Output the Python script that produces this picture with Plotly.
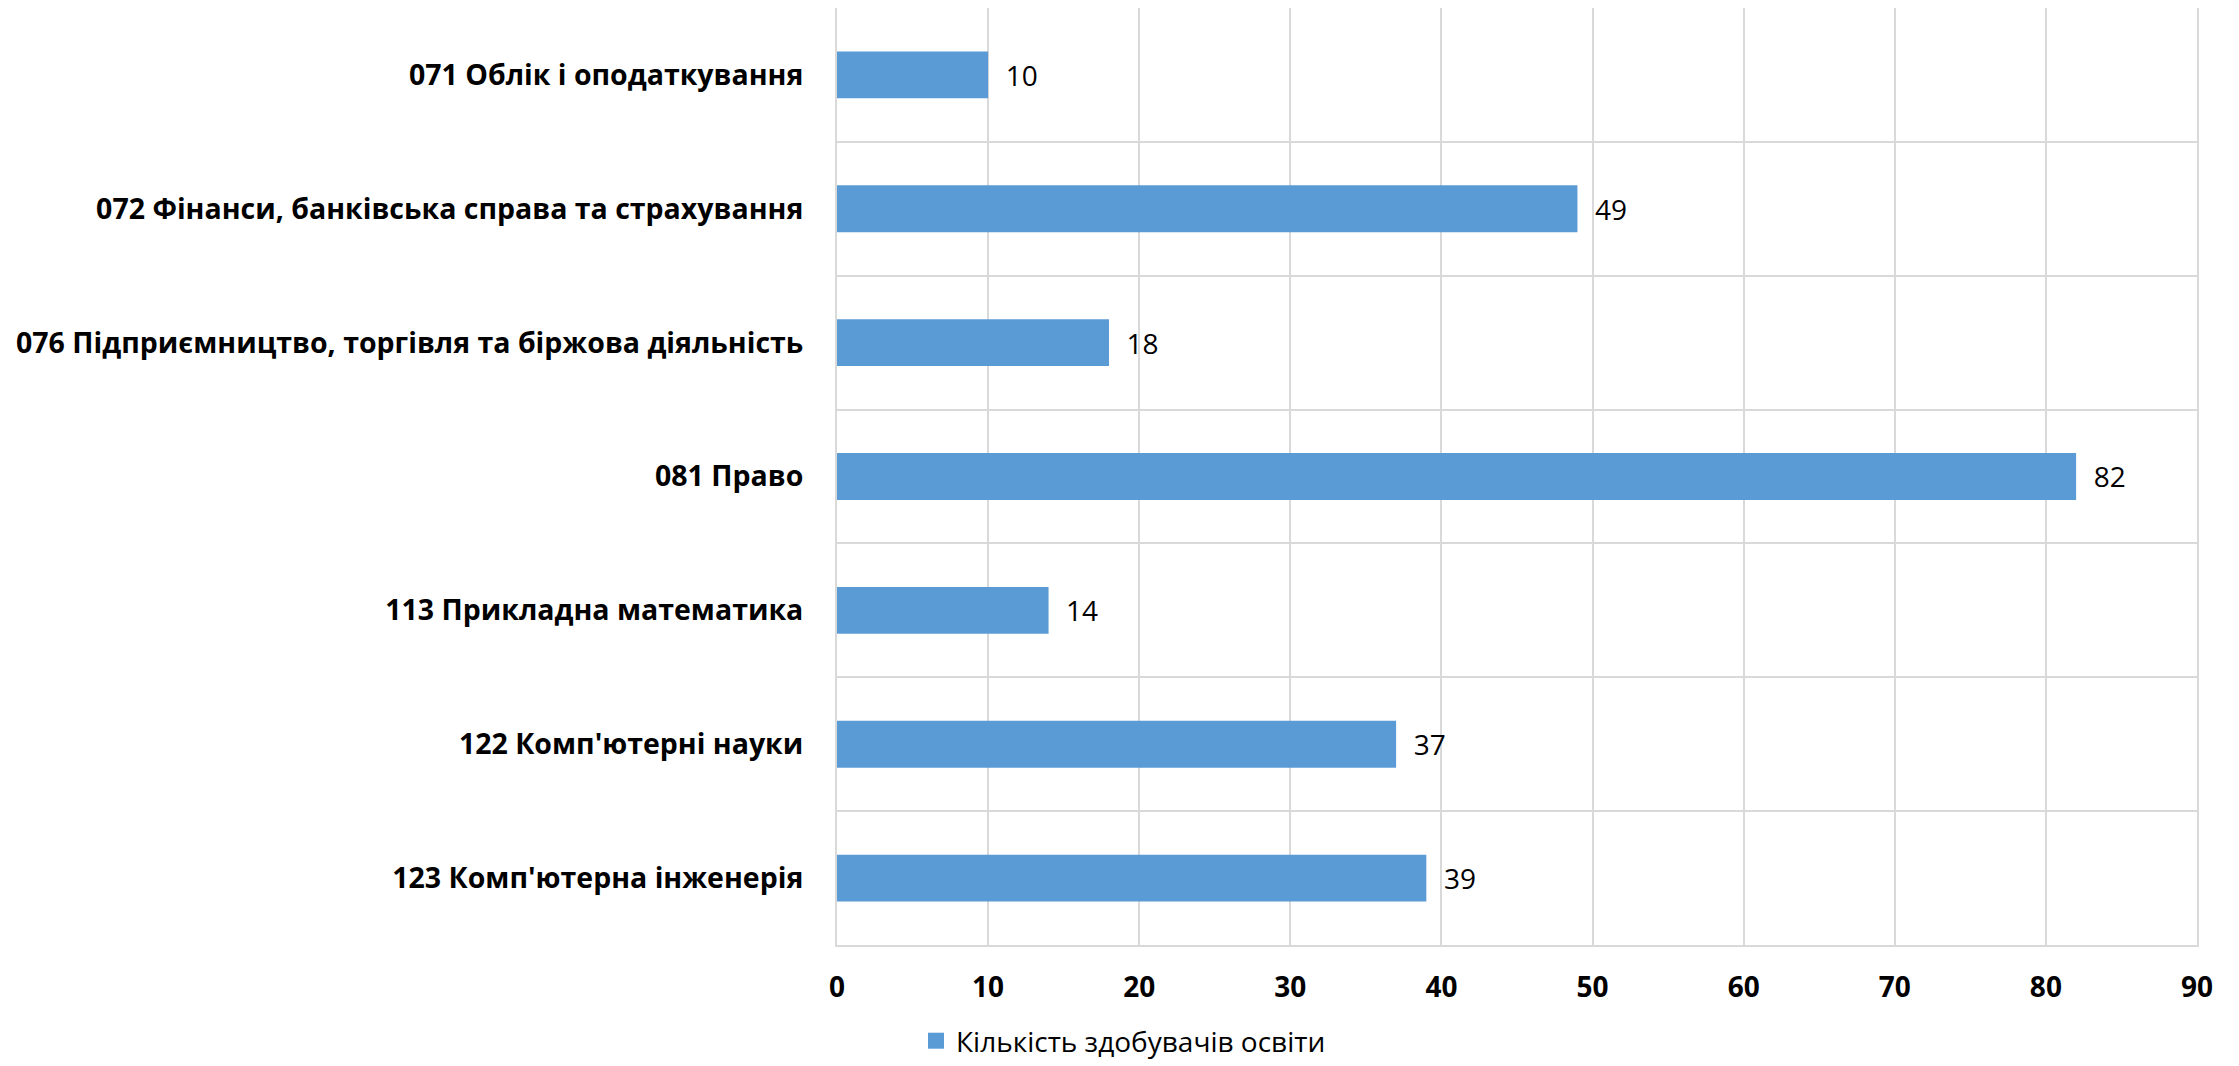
import plotly.graph_objects as go

categories = [
    "071 Облік і оподаткування",
    "072 Фінанси, банківська справа та страхування",
    "076 Підприємництво, торгівля та біржова діяльність",
    "081 Право",
    "113 Прикладна математика",
    "122 Комп'ютерні науки",
    "123 Комп'ютерна інженерія",
]
values = [10, 49, 18, 82, 14, 37, 39]
series_name = "Кількість здобувачів освіти"
x_ticks = [0, 10, 20, 30, 40, 50, 60, 70, 80, 90]

BAR_COLOR = "#5B9BD5"

fig = go.Figure()
fig.add_trace(go.Bar(
    y=categories,
    x=values,
    orientation="h",
    name=series_name,
    marker=dict(color=BAR_COLOR, line=dict(width=0)),
    width=0.35,
    text=values,
    texttemplate="  %{x}",
    textposition="outside",
    textfont=dict(family="Open Sans", size=28, color="#000000"),
    cliponaxis=False,
    showlegend=False,
))
# legend entry with a larger square swatch
fig.add_trace(go.Scatter(
    x=[None], y=[None],
    mode="markers",
    name=series_name,
    marker=dict(symbol="square", size=20, color=BAR_COLOR),
    showlegend=True,
    hoverinfo="skip",
))

fig.update_layout(
    width=2231,
    height=1058,
    margin=dict(l=829, r=42, t=0, b=121, autoexpand=False),
    paper_bgcolor="white",
    plot_bgcolor="white",
    font=dict(family="Open Sans", color="#000000"),
    showlegend=True,
    legend=dict(
        orientation="h",
        xref="container",
        yref="container",
        x=0.5,
        xanchor="center",
        y=-0.004,
        yanchor="bottom",
        font=dict(family="Open Sans", size=28, color="#000000"),
        itemwidth=30,
    ),
    xaxis=dict(
        range=[0, 90],
        tickvals=x_ticks,
        automargin=False,
        showgrid=True,
        gridcolor="#D9D9D9",
        gridwidth=2,
        zeroline=False,
        showline=True,
        linecolor="#D9D9D9",
        linewidth=2,
        mirror=True,
        ticks="",
        ticklabelstandoff=16,
        tickfont=dict(family="Open Sans", size=28, color="#000000", weight="bold"),
    ),
    yaxis=dict(
        categoryorder="array",
        categoryarray=categories[::-1],
        automargin=False,
        tickson="boundaries",
        showgrid=True,
        gridcolor="#D9D9D9",
        gridwidth=2,
        showline=True,
        linecolor="#D9D9D9",
        linewidth=2,
        mirror=True,
        ticks="",
        ticklabelstandoff=26,
        tickfont=dict(family="Open Sans", size=28.5, color="#000000", weight="bold"),
    ),
    bargap=0.65,
)

fig.write_html("out.html")
